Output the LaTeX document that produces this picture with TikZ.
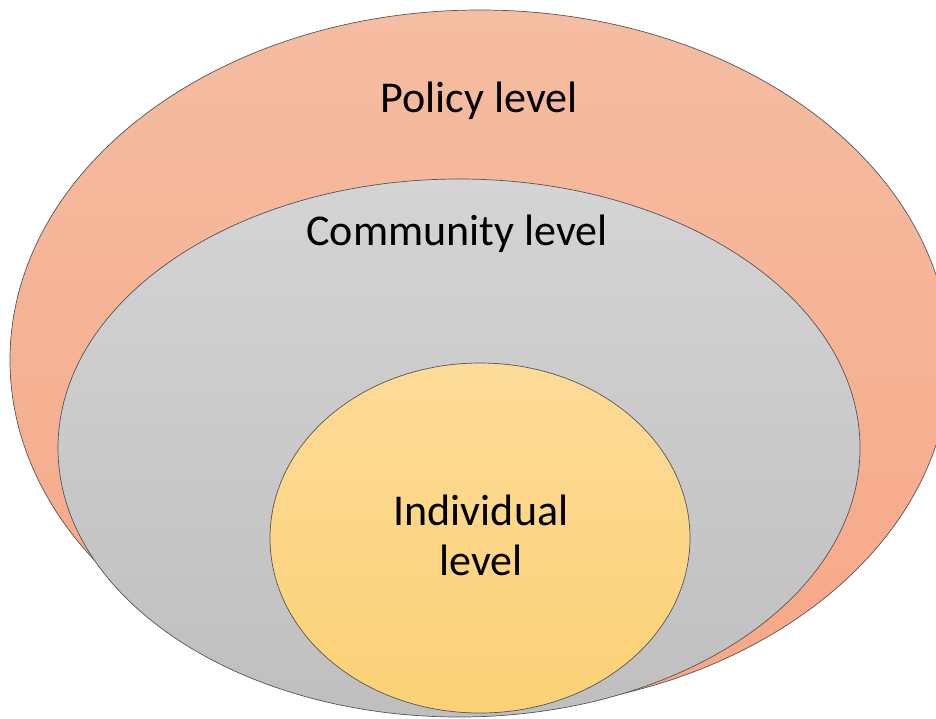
\documentclass[tikz,border=0pt]{standalone}
\usepackage{fontspec}
\setmainfont{Carlito}
\usetikzlibrary{positioning}

\definecolor{policytop}{RGB}{245,189,162}
\definecolor{policybot}{RGB}{247,167,134}
\definecolor{commtop}{RGB}{212,212,212}
\definecolor{commbot}{RGB}{191,191,191}
\definecolor{indivtop}{RGB}{253,219,152}
\definecolor{indivbot}{RGB}{252,210,118}
\definecolor{rim}{RGB}{85,85,85}

\tikzset{
	level/.style={draw=rim, line width=0.7pt},
	label/.style={font=\fontsize{44}{50}\selectfont, text=black, inner sep=0pt, align=center}
}

\begin{document}
\begin{tikzpicture}[x=1pt, y=-1pt]
		%%%%% START %%%%%
		
		\useasboundingbox (0, 0) rectangle (936, 718);
		\clip (0, 0) rectangle (936, 718);
		
		% outer ring
		\draw[level, top color=policytop, bottom color=policybot] (480, 360) ellipse (470 and 350);
		\node[label, anchor=base] (policy) at (479, 112) {Policy level};
		
		% middle ring
		\draw[level, top color=commtop, bottom color=commbot] (459, 448) ellipse (401 and 269);
		\node[label, anchor=base] (community) at (457, 245) {Community level};
		
		% inner circle
		\draw[level, top color=indivtop, bottom color=indivbot] (480, 538) ellipse (210 and 175);
		\node[label] (individual) at (481, 535) {Individual\\level};
		
		%%%%% END %%%%%
	\end{tikzpicture}
\end{document}
